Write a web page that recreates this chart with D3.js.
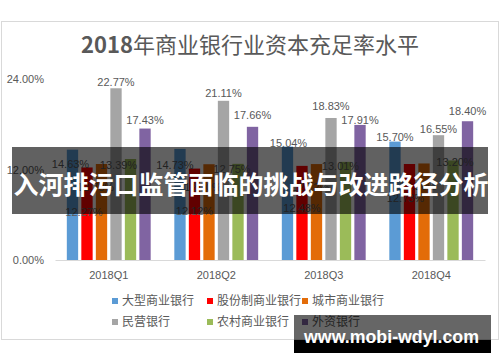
<!DOCTYPE html>
<html>
<head>
<meta charset="utf-8">
<script src="https://cdn.jsdelivr.net/npm/d3@7"></script>
<style>
  html, body { margin: 0; padding: 0; background: #fff; }
  svg { display: block; }
</style>
</head>
<body>
<div id="chart"></div>
<script>
// data
const quarters = ["2018Q1", "2018Q2", "2018Q3", "2018Q4"];
const seriesNames = ["大型商业银行", "股份制商业银行", "城市商业银行", "民营银行", "农村商业银行", "外资银行"];
const bigBanks = [14.63, 14.73, 15.04, 15.70];
const jointStock = [12.27, 12.12, 12.48, 12.73];
const cityBanks = [12.73, 12.70, 12.72, 12.80];
const privateBanks = [22.77, 21.11, 18.83, 16.55];
const ruralBanks = [13.39, 12.75, 13.01, 13.20];
const foreignBanks = [17.43, 17.66, 17.91, 18.40];
const yTicks = [0, 12, 24];

const seriesValues = [bigBanks, jointStock, cityBanks, privateBanks, ruralBanks, foreignBanks];
const colors = ["#5b9bd5", "#ff0000", "#e36c09", "#a5a5a5", "#9bbb59", "#8064a2"];

// label nudges (px) relative to the top of each bar, as placed in the original
const labelDx = [[-2, -5, 1, 0], [-3, 0, 0, -4], [-6, -6, -6, -6], [0, 0, 0, 0], [-12, -6, -5, 2], [0, 0, 0, 0]];
const labelDy = [[14, 16, -3, -4], [45, 43, 42, 34], [23, 23, 23, 23], [-6, -8, -12, -6], [6, 5, 4, 2], [-8, -12, -5, -10]];

const width = 500, height = 362;
const plot = { left: 55, right: 485, top: 79, bottom: 260 };
const textColor = "#595959";
const latin = "'Liberation Sans', Arial, 'Noto Sans CJK SC', sans-serif";
const cjk = "'Noto Sans CJK SC', sans-serif";

const svg = d3.select("#chart").append("svg")
    .attr("width", width)
    .attr("height", height);

// chart frame
svg.append("rect")
    .attr("x", 1.5).attr("y", 21.5)
    .attr("width", 497).attr("height", 318)
    .attr("fill", "#fff")
    .attr("stroke", "#d9d9d9");

// title
const title = svg.append("text")
    .attr("x", 250).attr("y", 53)
    .attr("text-anchor", "middle")
    .attr("font-family", cjk)
    .attr("font-size", 22)
    .attr("fill", textColor);
title.append("tspan").attr("font-weight", "bold").text("2018");
title.append("tspan").text("年商业银行业资本充足率水平");

const x0 = d3.scaleBand()
    .domain(quarters)
    .range([plot.left, plot.right])
    .paddingInner(0.22)
    .paddingOuter(0.11);

const x1 = d3.scaleBand()
    .domain(d3.range(seriesNames.length))
    .range([0, x0.bandwidth()])
    .paddingInner(0.22);

const y = d3.scaleLinear()
    .domain([0, d3.max(yTicks)])
    .range([plot.bottom, plot.top]);

// y axis (labels only)
const yAxis = svg.append("g")
    .attr("transform", "translate(" + plot.left + ",0)")
    .call(d3.axisLeft(y).tickValues(yTicks).tickSize(0).tickPadding(11)
        .tickFormat(d => d3.format(".2f")(d) + "%"));
yAxis.select(".domain").remove();
yAxis.selectAll("text")
    .attr("font-family", latin)
    .attr("font-size", 11)
    .attr("fill", textColor);

// bars
const groups = svg.selectAll(".quarter")
    .data(quarters)
    .enter()
    .append("g")
    .attr("class", "quarter")
    .attr("transform", d => "translate(" + x0(d) + ",0)");

groups.selectAll("rect")
    .data((q, qi) => seriesValues.map((vals, si) => ({ si: si, qi: qi, v: vals[qi] })))
    .enter()
    .append("rect")
    .attr("x", d => x1(d.si))
    .attr("y", d => y(d.v))
    .attr("width", x1.bandwidth())
    .attr("height", d => plot.bottom - y(d.v))
    .attr("fill", d => colors[d.si]);

// x axis
const xAxis = svg.append("g")
    .attr("transform", "translate(0," + plot.bottom + ")")
    .call(d3.axisBottom(x0).tickSize(0).tickPadding(11));
xAxis.select(".domain").attr("stroke", "#d9d9d9");
xAxis.selectAll("text")
    .attr("font-family", latin)
    .attr("font-size", 11)
    .attr("fill", textColor);

// data labels
groups.selectAll(".lbl")
    .data((q, qi) => seriesValues.map((vals, si) => ({ si: si, qi: qi, v: vals[qi] })))
    .enter()
    .append("text")
    .attr("class", "lbl")
    .attr("x", d => x1(d.si) + x1.bandwidth() / 2 + labelDx[d.si][d.qi])
    .attr("y", d => y(d.v) + labelDy[d.si][d.qi])
    .attr("dy", "0.35em")
    .attr("text-anchor", "middle")
    .attr("font-family", latin)
    .attr("font-size", 11)
    .attr("fill", textColor)
    .text(d => d3.format(".2f")(d.v) + "%");

// legend
const legendCols = [112, 207, 302];
const legendRows = [301, 322];
const legend = svg.selectAll(".legend")
    .data(seriesNames)
    .enter()
    .append("g")
    .attr("class", "legend")
    .attr("transform", (d, i) => "translate(" + legendCols[i % 3] + "," + legendRows[Math.floor(i / 3)] + ")");
legend.append("rect")
    .attr("x", 0).attr("y", -3)
    .attr("width", 6).attr("height", 6)
    .attr("fill", (d, i) => colors[i]);
legend.append("text")
    .attr("x", 10).attr("y", 0)
    .attr("dy", "0.35em")
    .attr("font-family", cjk)
    .attr("font-size", 12)
    .attr("fill", textColor)
    .text(d => d);

// dark banner across the middle
svg.append("rect")
    .attr("x", 12).attr("y", 147)
    .attr("width", 476).attr("height", 67)
    .attr("fill", "rgba(0,0,0,0.62)");
svg.append("text")
    .attr("x", 251).attr("y", 185)
    .attr("dy", "0.35em")
    .attr("text-anchor", "middle")
    .attr("font-family", cjk)
    .attr("font-weight", "bold")
    .attr("font-size", 25)
    .attr("fill", "#fff")
    .text("入河排污口监管面临的挑战与改进路径分析");

// watermark
svg.append("rect")
    .attr("x", 294).attr("y", 315)
    .attr("width", 197).attr("height", 25)
    .attr("fill", "rgba(0,0,0,0.6)");
svg.append("rect")
    .attr("x", 294).attr("y", 340)
    .attr("width", 197).attr("height", 13)
    .attr("fill", "#000");
svg.append("text")
    .attr("x", 304).attr("y", 343)
    .attr("font-family", latin)
    .attr("font-weight", "bold")
    .attr("font-size", 18)
    .attr("textLength", 175)
    .attr("lengthAdjust", "spacingAndGlyphs")
    .attr("fill", "#fff")
    .text("www.mobi-wdyl.com");
</script>
</body>
</html>
